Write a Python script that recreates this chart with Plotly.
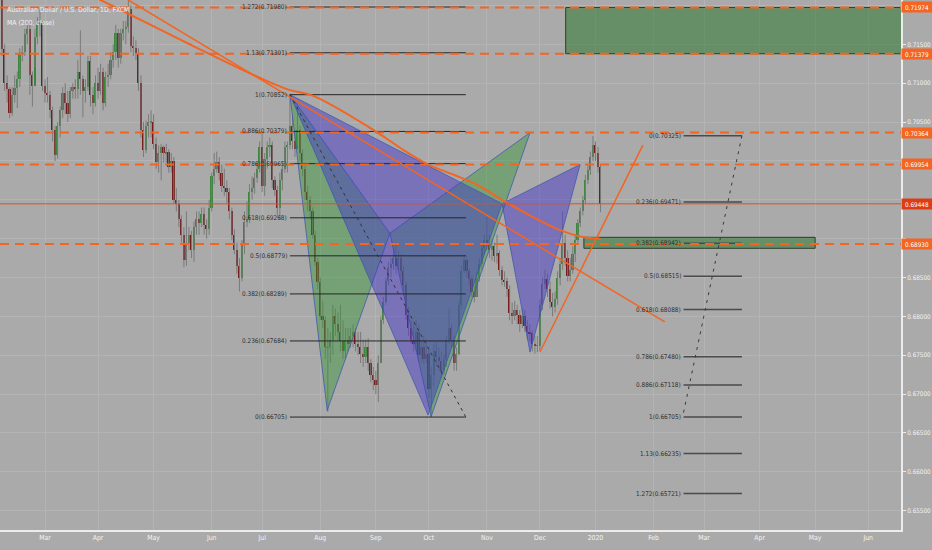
import plotly.graph_objects as go
import pandas as pd

# ---------------- data ----------------
first_open = 0.7250
closes = [
    0.7235, 0.7144, 0.7100, 0.7092,
    0.7062, 0.7085, 0.7094, 0.7105, 0.7138,
    0.7140, 0.7163, 0.7170, 0.7110, 0.7097,
    0.7160, 0.7175, 0.7178, 0.7097, 0.7088,
    0.7085, 0.7065, 0.7040, 0.7008, 0.7045,
    0.7065, 0.7088, 0.7075, 0.7060, 0.7090,
    0.7095, 0.7092, 0.7115, 0.7105, 0.7090,
    0.7095, 0.7128, 0.7085, 0.7075, 0.7100,
    0.7090, 0.7115, 0.7075, 0.7108, 0.7110,
    0.7130, 0.7140, 0.7165, 0.7132, 0.7165,
    0.7170, 0.7172, 0.7195, 0.7148, 0.7145,
    0.7138, 0.7100, 0.7040, 0.7014, 0.7045,
    0.7050, 0.7050, 0.7022, 0.6998, 0.7010,
    0.7018, 0.7010, 0.7012, 0.6992, 0.7000,
    0.6950, 0.6945, 0.6925, 0.6905, 0.6872,
    0.6895, 0.6905, 0.6885, 0.6915, 0.6925,
    0.6920, 0.6932, 0.6918, 0.6912, 0.6940,
    0.6980, 0.6990, 0.6998, 0.6985, 0.6968,
    0.6965, 0.6960, 0.6935, 0.6905, 0.6885,
    0.6865, 0.6850, 0.6893, 0.6922, 0.6925,
    0.6960, 0.6965, 0.6978, 0.6990, 0.7018,
    0.6968, 0.7002, 0.7018, 0.7020, 0.6975,
    0.6962, 0.6940, 0.6975, 0.6990, 0.7018,
    0.7020, 0.7045, 0.7025, 0.7015, 0.7040,
    0.7010, 0.6990, 0.6960, 0.6950, 0.6935,
    0.6905, 0.6870, 0.6844, 0.6800, 0.6795,
    0.6760, 0.6760, 0.6770, 0.6800, 0.6790,
    0.6780, 0.6768, 0.6755, 0.6770, 0.6765,
    0.6775, 0.6780, 0.6765, 0.6760, 0.6752,
    0.6748, 0.6760, 0.6740, 0.6725, 0.6718,
    0.6712, 0.6740, 0.6795, 0.6818, 0.6845,
    0.6862, 0.6868, 0.6875, 0.6865, 0.6875,
    0.6858, 0.6840, 0.6802, 0.6785, 0.6770,
    0.6765, 0.6780, 0.6750, 0.6760, 0.6745,
    0.6752, 0.6706, 0.6725, 0.6755, 0.6748,
    0.6742, 0.6730, 0.6745, 0.6770, 0.6785,
    0.6770, 0.6740, 0.6752, 0.6815, 0.6858,
    0.6872, 0.6858, 0.6848, 0.6832, 0.6825,
    0.6850, 0.6868, 0.6888, 0.6898, 0.6895,
    0.6885, 0.6890, 0.6878, 0.6882, 0.6860,
    0.6847, 0.6845, 0.6835, 0.6805, 0.6800,
    0.6808, 0.6802, 0.6790, 0.6800, 0.6788,
    0.6780, 0.6778, 0.6765, 0.6762, 0.6762,
    0.6815, 0.6842, 0.6848, 0.6835, 0.6818,
    0.6812, 0.6822, 0.6850, 0.6868, 0.6895,
    0.6875, 0.6852, 0.6860, 0.6880, 0.6898,
    0.6920, 0.6935, 0.6950, 0.6975, 0.6988,
    0.7005, 0.7020, 0.7010, 0.6992, 0.6945,
]
highs = [
    0.7265, 0.7245, 0.7150, 0.7110,
    0.7095, 0.7095, 0.7110, 0.7115, 0.7145,
    0.7148, 0.7170, 0.7180, 0.7180, 0.7115,
    0.7170, 0.7185, 0.7195, 0.7180, 0.7105,
    0.7108, 0.7090, 0.7070, 0.7045, 0.7050,
    0.7070, 0.7095, 0.7100, 0.7090, 0.7095,
    0.7100, 0.7105, 0.7130, 0.7168, 0.7110,
    0.7105, 0.7135, 0.7135, 0.7095, 0.7110,
    0.7120, 0.7125, 0.7120, 0.7115, 0.7125,
    0.7140, 0.7150, 0.7175, 0.7170, 0.7170,
    0.7180, 0.7180, 0.7207, 0.7200, 0.7160,
    0.7155, 0.7145, 0.7110, 0.7050, 0.7052,
    0.7060, 0.7065, 0.7060, 0.7030, 0.7020,
    0.7022, 0.7020, 0.7022, 0.7015, 0.7010,
    0.7005, 0.6965, 0.6950, 0.6930, 0.6915,
    0.6935, 0.6915, 0.6910, 0.6922, 0.6935,
    0.6935, 0.6940, 0.6940, 0.6925, 0.6950,
    0.6985, 0.7010, 0.7012, 0.7005, 0.6995,
    0.6990, 0.6975, 0.6965, 0.6940, 0.6912,
    0.6895, 0.6875, 0.6898, 0.6935, 0.6948,
    0.6970, 0.6980, 0.6985, 0.7000, 0.7025,
    0.7035, 0.7010, 0.7025, 0.7030, 0.7025,
    0.6980, 0.6968, 0.6985, 0.6998, 0.7025,
    0.7025, 0.70852, 0.7060, 0.7040, 0.7070,
    0.7045, 0.7015, 0.6995, 0.6968, 0.6955,
    0.6940, 0.6910, 0.6875, 0.6850, 0.6820,
    0.6800, 0.6785, 0.6780, 0.6815, 0.6810,
    0.6805, 0.6815, 0.6795, 0.6785, 0.6785,
    0.6785, 0.6790, 0.6785, 0.6780, 0.6780,
    0.6770, 0.6770, 0.6772, 0.6745, 0.6735,
    0.6730, 0.6750, 0.6800, 0.6825, 0.6850,
    0.6870, 0.6875, 0.6888, 0.6895, 0.6885,
    0.6880, 0.6865, 0.6845, 0.6812, 0.6795,
    0.6790, 0.6795, 0.6790, 0.6770, 0.6775,
    0.6770, 0.6760, 0.6735, 0.6765, 0.6768,
    0.6760, 0.6755, 0.6752, 0.6775, 0.6810,
    0.6790, 0.6775, 0.6760, 0.6822, 0.6865,
    0.6880, 0.6878, 0.6862, 0.6852, 0.6840,
    0.6858, 0.6875, 0.6895, 0.6905, 0.6928,
    0.6905, 0.6900, 0.6895, 0.6905, 0.6885,
    0.6865, 0.6858, 0.6850, 0.6840, 0.6818,
    0.6820, 0.6815, 0.6808, 0.6810, 0.6808,
    0.6795, 0.6790, 0.6782, 0.6775, 0.6775,
    0.6822, 0.6850, 0.6860, 0.6855, 0.6845,
    0.6830, 0.6832, 0.6858, 0.6875, 0.6935,
    0.6905, 0.6885, 0.6875, 0.6890, 0.6905,
    0.6925, 0.6940, 0.6955, 0.6982, 0.6995,
    0.7012, 0.7032, 0.7025, 0.7018, 0.6995,
]
lows = [
    0.7225, 0.7135, 0.7090, 0.7075,
    0.7055, 0.7058, 0.7075, 0.7068, 0.7095,
    0.7128, 0.7135, 0.7150, 0.7085, 0.7070,
    0.7120, 0.7150, 0.7160, 0.7090, 0.7075,
    0.7075, 0.7055, 0.7025, 0.7000, 0.7003,
    0.7030, 0.7055, 0.7060, 0.7050, 0.7055,
    0.7080, 0.7080, 0.7080, 0.7085, 0.7056,
    0.7075, 0.7090, 0.7070, 0.7060, 0.7070,
    0.7080, 0.7085, 0.7065, 0.7070, 0.7095,
    0.7105, 0.7120, 0.7130, 0.7120, 0.7125,
    0.7155, 0.7150, 0.7165, 0.7140, 0.7135,
    0.7130, 0.7090, 0.7030, 0.7005, 0.7010,
    0.7030, 0.7030, 0.7015, 0.6990, 0.6985,
    0.6975, 0.6998, 0.6998, 0.6985, 0.6985,
    0.6945, 0.6935, 0.6915, 0.6895, 0.6863,
    0.6865, 0.6885, 0.6875, 0.6870, 0.6905,
    0.6905, 0.6915, 0.6905, 0.6900, 0.6905,
    0.6935, 0.6970, 0.6985, 0.6975, 0.6960,
    0.6955, 0.6945, 0.6925, 0.6898, 0.6880,
    0.6855, 0.6832, 0.6845, 0.6880, 0.6915,
    0.6920, 0.6950, 0.6958, 0.6972, 0.6985,
    0.6960, 0.6955, 0.6990, 0.7005, 0.6965,
    0.6955, 0.6928, 0.6925, 0.6962, 0.6985,
    0.6985, 0.7015, 0.7015, 0.7005, 0.7020,
    0.7000, 0.6980, 0.6950, 0.6935, 0.6925,
    0.6900, 0.6865, 0.6835, 0.6795, 0.6785,
    0.6745, 0.6677, 0.6740, 0.6750, 0.6775,
    0.6770, 0.6755, 0.6745, 0.6745, 0.6755,
    0.6760, 0.6760, 0.6755, 0.6750, 0.6740,
    0.6735, 0.6740, 0.6730, 0.6715, 0.6705,
    0.6700, 0.6690, 0.6740, 0.6790, 0.6815,
    0.6840, 0.6850, 0.6860, 0.6855, 0.6860,
    0.6850, 0.6832, 0.6795, 0.6775, 0.6765,
    0.6755, 0.6755, 0.6742, 0.6740, 0.6738,
    0.6740, 0.6695, 0.6671, 0.6710, 0.6735,
    0.6730, 0.6720, 0.6725, 0.6735, 0.6765,
    0.6760, 0.6730, 0.6730, 0.6750, 0.6810,
    0.6855, 0.6850, 0.6840, 0.6825, 0.6818,
    0.6825, 0.6845, 0.6860, 0.6880, 0.6885,
    0.6875, 0.6872, 0.6870, 0.6868, 0.6852,
    0.6840, 0.6838, 0.6825, 0.6795, 0.6790,
    0.6795, 0.6790, 0.6780, 0.6785, 0.6780,
    0.6770, 0.6768, 0.6755, 0.6752, 0.6754,
    0.6755, 0.6808, 0.6835, 0.6825, 0.6810,
    0.6800, 0.6805, 0.6815, 0.6840, 0.6860,
    0.6865, 0.6845, 0.6845, 0.6855, 0.6870,
    0.6895, 0.6915, 0.6930, 0.6945, 0.6970,
    0.6982, 0.7000, 0.7000, 0.6985, 0.6934,
]
dates = pd.bdate_range("2019-02-05", "2020-01-03") + pd.Timedelta(hours=12)
assert len(dates) == len(closes) == len(highs) == len(lows)
opens = [first_open] + closes[:-1]

# 200-day moving average
ma_dates = ["2019-03-08 12:00", "2019-04-02 12:00", "2019-05-20 12:00", "2019-06-28 12:00",
            "2019-07-16 12:00", "2019-07-29 12:00", "2019-08-30 12:00", "2019-09-17 12:00",
            "2019-10-01 12:00", "2019-10-15 12:00", "2019-10-29 12:00", "2019-11-11 12:00",
            "2019-11-26 12:00", "2019-12-12 12:00", "2019-12-25 12:00", "2020-01-03 12:00"]
ma_values = [0.7233, 0.7207, 0.7152, 0.7107, 0.7091, 0.7084, 0.7040, 0.7014,
             0.6995, 0.6982, 0.6968, 0.6950, 0.6930, 0.6911, 0.6902, 0.6900]

# horizontal levels
dashed_levels = [0.71974, 0.71379, 0.70364, 0.69954, 0.68930]
last_price = 0.69448

# y-axis ticks (labels hidden where the price tags cover them)
y_ticks = [0.655, 0.66, 0.665, 0.67, 0.675, 0.68, 0.685, 0.69, 0.695, 0.70, 0.705, 0.71, 0.715, 0.72]
y_tick_hidden = [0.69, 0.695, 0.70, 0.72]

# month ticks (first bar of each month)
month_tick_dates = ["2019-03-01 12:00", "2019-04-01 12:00", "2019-05-01 12:00", "2019-06-03 12:00",
                    "2019-07-01 12:00", "2019-08-01 12:00", "2019-09-02 12:00", "2019-10-01 12:00",
                    "2019-11-01 12:00", "2019-12-02 12:00", "2020-01-01 12:00", "2020-02-03 12:00",
                    "2020-03-02 12:00", "2020-04-01 12:00", "2020-05-01 12:00", "2020-06-01 12:00"]
month_labels = ["Mar", "Apr", "May", "Jun", "Jul", "Aug", "Sep", "Oct", "Nov", "Dec",
                "2020", "Feb", "Mar", "Apr", "May", "Jun"]

# Fibonacci retracement (left)
fibL_ratios = ["1.272", "1.13", "1", "0.886", "0.786", "0.618", "0.5", "0.382", "0.236", "0"]
fibL_prices = [0.71980, 0.71391, 0.70852, 0.70379, 0.69965, 0.69268, 0.68779, 0.68289, 0.67684, 0.66705]
fibL_x = ["2019-07-16 12:00", "2019-10-22 04:00"]

# Fibonacci (right)
fibR_ratios = ["0", "0.236", "0.382", "0.5", "0.618", "0.786", "0.886", "1", "1.13", "1.272"]
fibR_prices = [0.70325, 0.69471, 0.68942, 0.68515, 0.68088, 0.67480, 0.67118, 0.66705, 0.66235, 0.65721]
fibR_x = ["2020-02-19 09:00", "2020-03-23 12:00"]
fibR_diag_x = ["2020-03-23 12:00", "2020-02-19 00:00"]

# XABCD patterns
green_x = ["2019-07-16 12:00", "2019-08-06 06:00", "2019-09-10 02:00", "2019-10-02 10:00", "2019-11-26 14:00"]
green_y = [0.70852, 0.6679, 0.6907, 0.6671, 0.70364]
purple_x = ["2019-07-16 12:00", "2019-10-01 05:00", "2019-11-11 12:00", "2019-11-26 14:00", "2019-12-24 10:00"]
purple_y = [0.70852, 0.6673, 0.6945, 0.6754, 0.69954]

# trend lines
down_line_x = ["2019-04-17 12:00", "2020-02-07 23:00"]
down_line_y = [0.7207, 0.67928]
up_line_x = ["2019-12-02 12:00", "2020-01-28 07:00"]
up_line_y = [0.67542, 0.70204]

# rectangles
big_rect_x = ["2019-12-16 17:00", "2020-06-30 12:00"]
big_rect_y = [0.71379, 0.71974]
small_rect_x = ["2019-12-25 22:00", "2020-05-01 12:00"]
small_rect_y = [0.68876, 0.69017]

X_RANGE = ["2019-02-05 16:00", "2020-06-18 12:00"]
Y_RANGE = [0.65252, 0.72070]

# ---------------- style ----------------
BG = "#aaaaaa"
GRID = "#b4b4b4"
ORANGE = "#f26522"
GREEN_BODY = "#3d863d"
RED_BODY = "#771b1b"
WICK = "#7a7a7a"
FONT = "DejaVu Sans Condensed, Liberation Sans Narrow, sans-serif"

fig = go.Figure()

# wicks
wx, wy = [], []
for d, h, l in zip(dates, highs, lows):
    wx += [d, d, None]
    wy += [l, h, None]
fig.add_trace(go.Scatter(x=wx, y=wy, mode="lines", line=dict(color=WICK, width=1), hoverinfo="skip"))

# bodies
bases = [min(o, c) for o, c in zip(opens, closes)]
heights = [max(abs(c - o), 0.00006) for o, c in zip(opens, closes)]
colors = [GREEN_BODY if c >= o else RED_BODY for o, c in zip(opens, closes)]
fig.add_trace(go.Bar(x=dates, y=heights, base=bases, marker=dict(color=colors, line=dict(width=0)),
                     width=0.66 * 86400000, hoverinfo="skip"))


def tri(xs, ys, idx, fill):
    fig.add_trace(go.Scatter(
        x=[xs[i] for i in idx] + [xs[idx[0]]],
        y=[ys[i] for i in idx] + [ys[idx[0]]],
        mode="lines", fill="toself", fillcolor=fill,
        line=dict(color="rgba(60,85,175,0.75)", width=1), hoverinfo="skip"))


GREEN_FILL = "rgba(55,150,55,0.45)"
BLUE_FILL = "rgba(70,55,200,0.48)"
tri(green_x, green_y, [0, 1, 2], GREEN_FILL)
tri(green_x, green_y, [2, 3, 4], GREEN_FILL)
tri(purple_x, purple_y, [0, 1, 2], BLUE_FILL)
tri(purple_x, purple_y, [2, 3, 4], BLUE_FILL)

# rectangles
for rx, ry in [(big_rect_x, big_rect_y), (small_rect_x, small_rect_y)]:
    fig.add_trace(go.Scatter(x=[rx[0], rx[1], rx[1], rx[0], rx[0]],
                             y=[ry[0], ry[0], ry[1], ry[1], ry[0]],
                             mode="lines", fill="toself", fillcolor="rgba(35,115,35,0.5)",
                             line=dict(color="#2c3d2c", width=1), hoverinfo="skip"))

# left fib lines
for p in fibL_prices:
    fig.add_trace(go.Scatter(x=fibL_x, y=[p, p], mode="lines",
                             line=dict(color="#262626", width=1), hoverinfo="skip"))
fig.add_trace(go.Scatter(x=fibL_x, y=[fibL_prices[2], fibL_prices[-1]], mode="lines",
                         line=dict(color="#333333", width=1, dash="3px,4px"), hoverinfo="skip"))
# right fib lines
for p in fibR_prices:
    fig.add_trace(go.Scatter(x=fibR_x, y=[p, p], mode="lines",
                             line=dict(color="#4a4a4a", width=1.5), hoverinfo="skip"))
fig.add_trace(go.Scatter(x=fibR_diag_x, y=[fibR_prices[0], fibR_prices[7]], mode="lines",
                         line=dict(color="#3a3a3a", width=1, dash="3px,5px"), hoverinfo="skip"))

# MA and trend lines
fig.add_trace(go.Scatter(x=ma_dates, y=ma_values, mode="lines", line=dict(color=ORANGE, width=2, shape="spline"),
                         hoverinfo="skip"))
fig.add_trace(go.Scatter(x=down_line_x, y=down_line_y, mode="lines", line=dict(color=ORANGE, width=1.5),
                         hoverinfo="skip"))
fig.add_trace(go.Scatter(x=up_line_x, y=up_line_y, mode="lines", line=dict(color=ORANGE, width=1.5),
                         hoverinfo="skip"))

# horizontal levels
shapes = []
for lv in dashed_levels:
    shapes.append(dict(type="line", xref="paper", x0=0, x1=1, yref="y", y0=lv, y1=lv,
                       line=dict(color=ORANGE, width=2, dash="9px,6px")))
shapes.append(dict(type="line", xref="paper", x0=0, x1=1, yref="y", y0=last_price, y1=last_price,
                   line=dict(color="#e0501e", width=1)))

LABEL_FONT = dict(family=FONT, size=6.4, color="#303030")
AXIS_FONT = dict(family=FONT, size=6.3, color="#f4f4f4")
annotations = []
# fib labels
for r, p in zip(fibL_ratios, fibL_prices):
    annotations.append(dict(x=fibL_x[0], y=p, xref="x", yref="y", text=f"{r}({p:.5f})",
                            showarrow=False, xanchor="right", yanchor="middle", xshift=-1,
                            font=LABEL_FONT))
for r, p in zip(fibR_ratios, fibR_prices):
    annotations.append(dict(x=fibR_x[0], y=p, xref="x", yref="y", text=f"{r}({p:.5f})",
                            showarrow=False, xanchor="right", yanchor="middle", xshift=-1,
                            font=LABEL_FONT))
# price labels on the axis
for lv in dashed_levels:
    annotations.append(dict(x=1, y=lv, xref="paper", yref="y", text=f"{lv:.5f}", showarrow=False,
                            xanchor="left", yanchor="middle", bgcolor=ORANGE, borderpad=0,
                            width=30, height=10, align="center",
                            font=dict(family=FONT, size=6.3, color="white")))
annotations.append(dict(x=1, y=last_price, xref="paper", yref="y", text=f"{last_price:.5f}", showarrow=False,
                        xanchor="left", yanchor="middle", bgcolor="#dc3d18", borderpad=0,
                        width=30, height=10, align="center",
                        font=dict(family=FONT, size=6.3, color="white")))
# title
annotations.append(dict(x=0.005, y=1 - 10 / 530, xref="paper", yref="paper",
                        text="Australian Dollar / U.S. Dollar, 1D, FXCM", showarrow=False,
                        xanchor="left", yanchor="middle", font=dict(family=FONT, size=6.8, color="#f2f2f2")))
annotations.append(dict(x=0.005, y=1 - 23 / 530, xref="paper", yref="paper",
                        text="MA (200, close)", showarrow=False,
                        xanchor="left", yanchor="middle", font=dict(family=FONT, size=6.8, color="#f2f2f2")))

fig.update_layout(
    width=932, height=550,
    margin=dict(l=0, r=31, t=0, b=20, autoexpand=False),
    plot_bgcolor=BG, paper_bgcolor=BG,
    showlegend=False, bargap=0,
    shapes=shapes, annotations=annotations,
    xaxis=dict(type="date", range=X_RANGE, rangebreaks=[dict(bounds=["sat", "mon"])],
               tickvals=month_tick_dates, ticktext=month_labels,
               showgrid=True, gridcolor=GRID, gridwidth=1,
               showline=True, linecolor="#ececec", linewidth=2, ticks="",
               tickfont=dict(family=FONT, size=6.8, color="#f4f4f4"), zeroline=False, fixedrange=True),
    yaxis=dict(range=Y_RANGE, side="right", tickvals=y_ticks,
               ticktext=["" if t in y_tick_hidden else f"{t:.5f}" for t in y_ticks],
               showgrid=True, gridcolor=GRID, gridwidth=1,
               showline=True, linecolor="#ececec", linewidth=2,
               ticks="outside", ticklen=3, tickcolor="#ececec",
               tickfont=AXIS_FONT, zeroline=False, fixedrange=True),
)

fig.write_html("out.html", config={"displayModeBar": False},
               post_script="document.body.style.margin='0';document.body.style.overflow='hidden';")
